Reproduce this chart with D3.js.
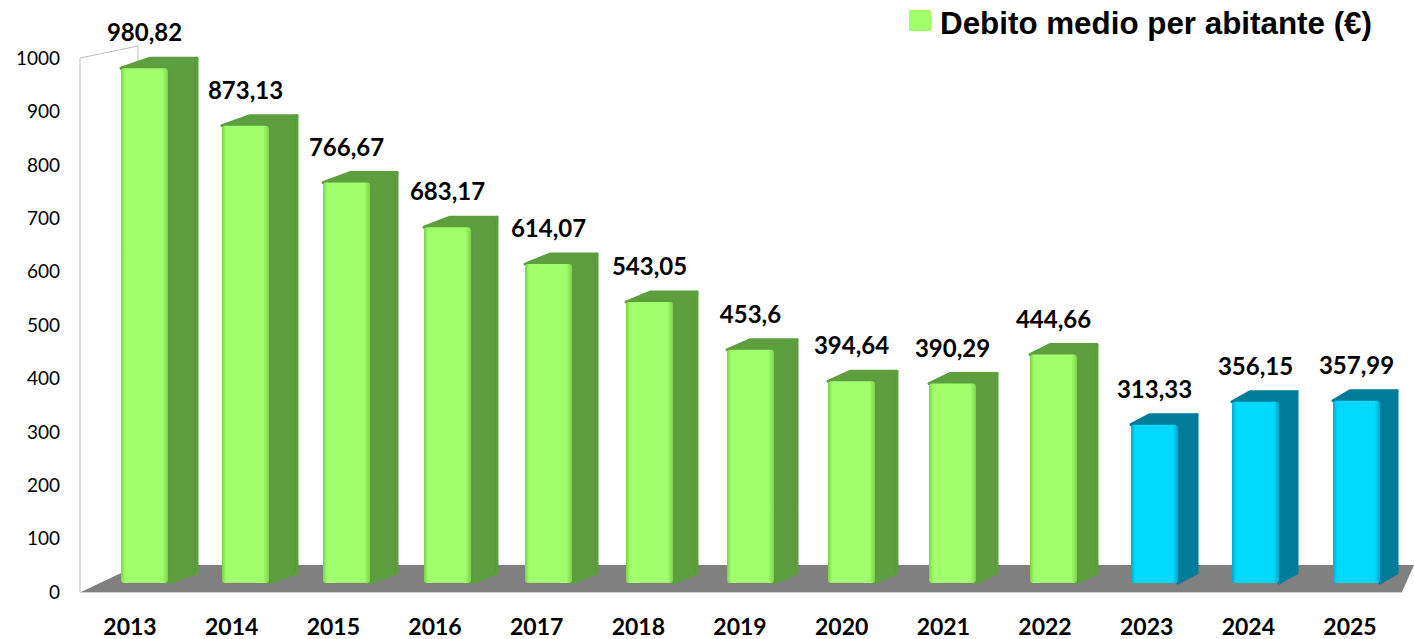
<!DOCTYPE html>
<html>
<head>
<meta charset="utf-8">
<script src="https://cdn.jsdelivr.net/npm/d3@7"></script>
<style>
  body { margin: 0; background: #fff; }
  svg { display: block; }
  .tick-label { font-family: Lato, "Open Sans", sans-serif; font-size: 19px; fill: #000; }
  .year-label { font-family: Lato, "Open Sans", sans-serif; font-weight: bold; font-size: 23px; fill: #000; }
  .value-label { font-family: Lato, "Open Sans", sans-serif; font-weight: bold; font-size: 24px; fill: #000; }
  .legend-label { font-family: "Liberation Sans Narrow", "Liberation Sans", Arial, sans-serif; font-weight: bold; font-size: 31px; fill: #000; }
</style>
</head>
<body>
<div id="chart"></div>
<script>
"use strict";

// data
let years = ["2013", "2014", "2015", "2016", "2017", "2018", "2019", "2020", "2021", "2022", "2023", "2024", "2025"];
let debito = [980.82, 873.13, 766.67, 683.17, 614.07, 543.05, 453.6, 394.64, 390.29, 444.66, 313.33, 356.15, 357.99];
let valueLabels = ["980,82", "873,13", "766,67", "683,17", "614,07", "543,05", "453,6", "394,64", "390,29", "444,66", "313,33", "356,15", "357,99"];
let projected = ["2023", "2024", "2025"];
let yTicks = [0, 100, 200, 300, 400, 500, 600, 700, 800, 900, 1000];
let legendText = "Debito medio per abitante (€)";

let width = 1414, height = 639;

let svg = d3.select("#chart").append("svg")
  .attr("width", width)
  .attr("height", height);

let defs = svg.append("defs");

function faceGradient(id, edge, mid) {
  let g = defs.append("linearGradient").attr("id", id)
    .attr("x1", "0").attr("x2", "1").attr("y1", "0").attr("y2", "0");
  g.append("stop").attr("offset", "0%").attr("stop-color", edge);
  g.append("stop").attr("offset", "9%").attr("stop-color", mid);
  g.append("stop").attr("offset", "88%").attr("stop-color", mid);
  g.append("stop").attr("offset", "100%").attr("stop-color", edge);
}
faceGradient("frontGreen", "#7cd24a", "#a0ff6a");
faceGradient("frontBlue", "#00a9cc", "#00d9ff");
faceGradient("sideGreen", "#52903a", "#5d9e3f");
faceGradient("sideBlue", "#006e8a", "#007c99");

let y = d3.scaleLinear().domain([0, 1000]).range([592, 58]);
let xBar = d3.scalePoint().domain(years).range([144.5, 1356.5]);
let xLabel = d3.scalePoint().domain(years).range([130, 1350]);

let barW = 47;
let barBase = 583;
let depthY = -10;
function depthX(x0) {
  return 29 - 0.0099 * (x0 - 121);
}

// back wall outline
svg.append("path")
  .attr("d", "M80,592 L80,58 L138,46 L138,565")
  .attr("fill", "none")
  .attr("stroke", "#bdbdbd")
  .attr("stroke-width", 1);

// floor
svg.append("path")
  .attr("d", "M81,592 L138,565 L1414,565 L1402,592 Z")
  .attr("fill", "#808080");
svg.append("line")
  .attr("x1", 80).attr("x2", 1402)
  .attr("y1", 592.5).attr("y2", 592.5)
  .attr("stroke", "#d0d0d0");

// y axis labels
svg.append("g").selectAll("text")
  .data(yTicks)
  .enter().append("text")
  .attr("class", "tick-label")
  .attr("x", 60)
  .attr("y", d => y(d))
  .attr("dy", "0.36em")
  .attr("text-anchor", "end")
  .text(d => d);

// bars
let bars = svg.append("g").selectAll("g")
  .data(years.map((yr, i) => ({year: yr, value: debito[i], label: valueLabels[i]})))
  .enter().append("g");

bars.each(function(d) {
  let g = d3.select(this);
  let blue = projected.includes(d.year);
  let x0 = xBar(d.year) - barW / 2;
  let x1 = x0 + barW;
  let top = y(d.value);
  let dx = depthX(x0);
  let sideColor = blue ? "#007c99" : "#5d9e3f";

  g.append("path")
    .attr("d", `M${x1},${top} L${x1 + dx},${top + depthY} L${x1 + dx},${barBase + depthY} L${x1},${barBase} Z`)
    .attr("fill", `url(#${blue ? "sideBlue" : "sideGreen"})`)
    .attr("stroke", sideColor)
    .attr("stroke-width", 3)
    .attr("stroke-linejoin", "round");

  g.append("path")
    .attr("d", `M${x0},${top} L${x0 + dx},${top + depthY} L${x1 + dx},${top + depthY} L${x1},${top} Z`)
    .attr("fill", sideColor)
    .attr("stroke", sideColor)
    .attr("stroke-width", 3)
    .attr("stroke-linejoin", "round");

  g.append("rect")
    .attr("x", x0)
    .attr("y", top)
    .attr("width", barW)
    .attr("height", barBase - top)
    .attr("rx", 3)
    .attr("fill", `url(#${blue ? "frontBlue" : "frontGreen"})`);

  g.append("text")
    .attr("class", "value-label")
    .attr("x", xBar(d.year))
    .attr("y", top - 27)
    .attr("text-anchor", "middle")
    .text(d.label);
});

// year labels
svg.append("g").selectAll("text")
  .data(years)
  .enter().append("text")
  .attr("class", "year-label")
  .attr("x", d => xLabel(d))
  .attr("y", 635)
  .attr("text-anchor", "middle")
  .text(d => d);

// legend
svg.append("rect")
  .attr("x", 909).attr("y", 10)
  .attr("width", 22).attr("height", 21)
  .attr("fill", "#a0ff6a");
svg.append("text")
  .attr("class", "legend-label")
  .attr("x", 940)
  .attr("y", 34)
  .attr("textLength", 432)
  .attr("lengthAdjust", "spacingAndGlyphs")
  .text(legendText);
</script>
</body>
</html>
